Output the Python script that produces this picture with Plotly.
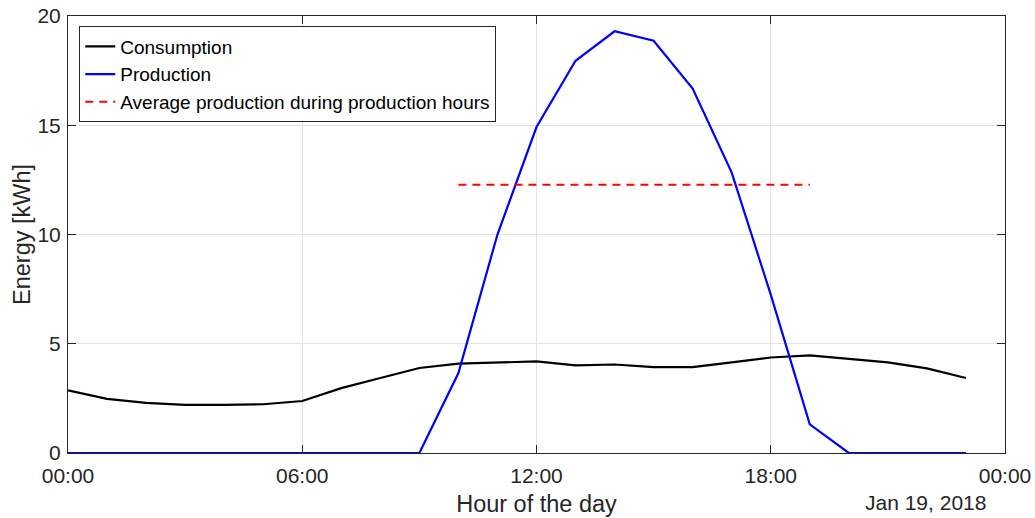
import plotly.graph_objects as go
import pandas as pd

hours = list(range(24))
consumption = [2.87, 2.48, 2.29, 2.20, 2.20, 2.23, 2.38, 2.97, 3.43, 3.89, 4.09, 4.15,
               4.19, 4.01, 4.05, 3.93, 3.93, 4.15, 4.37, 4.47, 4.31, 4.15, 3.87, 3.43]
production = [0, 0, 0, 0, 0, 0, 0, 0, 0, 0, 3.66, 10.0,
              14.92, 17.95, 19.30, 18.87, 16.68, 12.83, 7.25, 1.31, 0, 0, 0, 0]
prod_hours = [h for h in hours if production[h] > 0]
avg_prod = sum(production[h] for h in prod_hours) / len(prod_hours)

day = pd.Timestamp("2018-01-19")
times = [day + pd.Timedelta(hours=h) for h in hours]
avg_x = [times[prod_hours[0]], times[prod_hours[-1]]]
avg_y = [avg_prod, avg_prod]

font = "Liberation Sans, Arial, Helvetica, sans-serif"
axcol = "#262626"

fig = go.Figure()
fig.add_trace(go.Scatter(x=times, y=consumption, mode="lines", name="Consumption",
                         line=dict(color="black", width=2.2)))
fig.add_trace(go.Scatter(x=times, y=production, mode="lines", name="Production",
                         line=dict(color="#0000ff", width=2.2)))
fig.add_trace(go.Scatter(x=avg_x, y=avg_y, mode="lines",
                         name="Average production during production hours",
                         line=dict(color="#ff0000", width=2.2, dash="8px,6px")))

fig.update_layout(
    width=1035, height=518,
    margin=dict(l=68, r=30, t=16, b=65, autoexpand=False),
    paper_bgcolor="white", plot_bgcolor="white",
    font=dict(family=font, size=21, color=axcol),
    showlegend=True,
    legend=dict(x=0.012, y=0.976, xanchor="left", yanchor="top",
                bgcolor="white", bordercolor="#262626", borderwidth=1,
                font=dict(size=19, color="black", family=font),
                tracegroupgap=0, itemwidth=30),
)
fig.update_xaxes(
    type="date", automargin=False,
    range=[day, day + pd.Timedelta(hours=24)],
    tickvals=[day + pd.Timedelta(hours=h) for h in [0, 6, 12, 18, 24]],
    ticktext=["00:00", "06:00", "12:00", "18:00", "00:00"],
    ticks="inside", ticklen=8, tickcolor=axcol,
    showline=True, linecolor=axcol, linewidth=1, mirror="ticks",
    showgrid=True, gridcolor="#e3e3e3", gridwidth=1,
    zeroline=False,
    ticklabelstandoff=4,
    title=dict(text="Hour of the day", font=dict(size=23.5, color=axcol), standoff=9),
    tickfont=dict(size=21, color=axcol),
)
fig.update_yaxes(
    automargin=False,
    range=[0, 20], tickvals=[0, 5, 10, 15, 20],
    ticks="inside", ticklen=8, tickcolor=axcol,
    showline=True, linecolor=axcol, linewidth=1, mirror="ticks",
    showgrid=True, gridcolor="#e3e3e3", gridwidth=1,
    zeroline=False,
    ticklabelstandoff=2,
    title=dict(text="Energy [kWh]", font=dict(size=23.5, color=axcol), standoff=0),
    tickfont=dict(size=21, color=axcol),
)
fig.add_annotation(text="Jan 19, 2018", xref="paper", yref="paper",
                   x=0.915, y=-0.114, xanchor="center", yanchor="middle",
                   showarrow=False, font=dict(size=21, color=axcol, family=font))

fig.write_html("out.html")
